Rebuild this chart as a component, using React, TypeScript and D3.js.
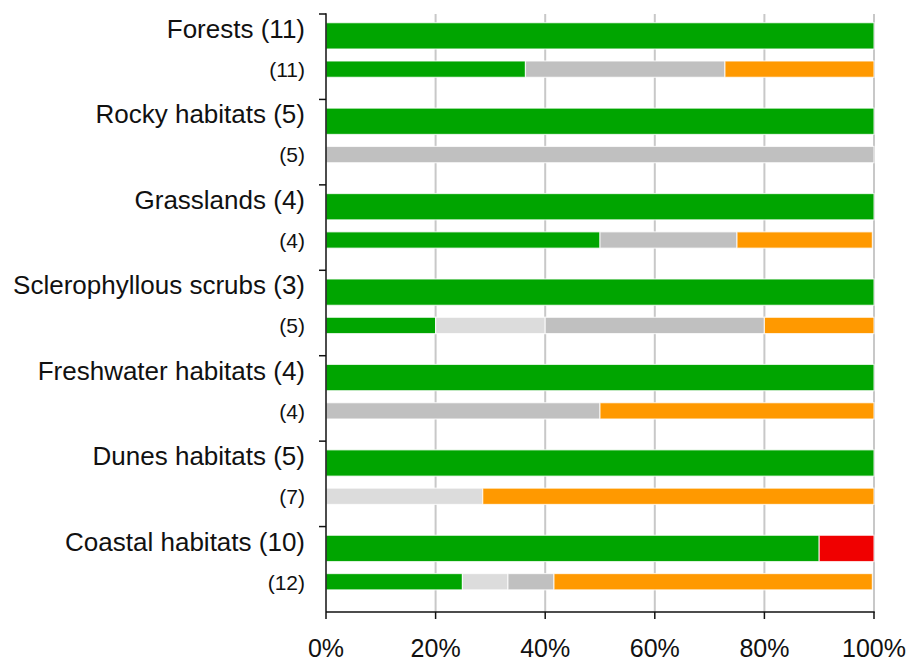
import React from "react";
import * as d3 from "d3";

const habitats = [
  "Forests (11)",
  "Rocky habitats (5)",
  "Grasslands (4)",
  "Sclerophyllous scrubs (3)",
  "Freshwater habitats (4)",
  "Dunes habitats (5)",
  "Coastal habitats (10)",
];
const subLabels = ["(11)", "(5)", "(4)", "(5)", "(4)", "(7)", "(12)"];

const seriesNames = ["Favourable", "Unknown (light)", "Unknown", "Unfavourable-inadequate", "Unfavourable-bad"];
const seriesColors = ["#00A500", "#DCDCDC", "#C0C0C0", "#FF9900", "#F00000"];

// main bar values per habitat (percent, by series)
const mainGood = [100, 100, 100, 100, 100, 100, 90];
const mainLight = [0, 0, 0, 0, 0, 0, 0];
const mainGray = [0, 0, 0, 0, 0, 0, 0];
const mainOrange = [0, 0, 0, 0, 0, 0, 0];
const mainRed = [0, 0, 0, 0, 0, 0, 10];

// sub bar values per habitat
const subGood = [36.4, 0, 50, 20, 0, 0, 24.9];
const subLight = [0, 0, 0, 20, 0, 28.6, 8.3];
const subGray = [36.4, 100, 25, 40, 50, 0, 8.4];
const subOrange = [27.2, 0, 24.7, 20, 50, 71.4, 58.1];
const subRed = [0, 0, 0, 0, 0, 0, 0];

const xTicks = [0, 20, 40, 60, 80, 100];

const W = 910;
const H = 661;
const left = 326;
const right = 874;
const top = 14;
const bottom = 612;

export default function App() {
  const x = d3.scaleLinear().domain([0, 100]).range([left, right]);
  const y = d3.scaleBand<string>().domain(habitats).range([top, bottom]).padding(0);
  const bw = y.bandwidth();
  const inner = d3.scaleLinear().domain([0, 1]).range([0, bw]);

  const mainSeries = [mainGood, mainLight, mainGray, mainOrange, mainRed];
  const subSeries = [subGood, subLight, subGray, subOrange, subRed];

  const stackRow = (series: number[][], i: number) => {
    let acc = 0;
    return series.map((s, k) => {
      const v = s[i];
      const seg = { k, x0: acc, x1: acc + v };
      acc += v;
      return seg;
    }).filter((d) => d.x1 > d.x0);
  };

  const font = "'Liberation Sans', Arial, sans-serif";

  return (
    <svg width={W} height={H} style={{ position: "absolute", left: 0, top: 0, background: "#fff" }}>
      {/* gridlines */}
      {xTicks.slice(1).map((t) => (
        <line key={"g" + t} x1={x(t)} x2={x(t)} y1={top} y2={bottom} stroke="#c8c8c8" strokeWidth={2} />
      ))}
      {habitats.map((h, i) => {
        const y0 = y(h)!;
        const mTop = y0 + inner(8.7 / 85.43);
        const mH = inner(26.3 / 85.43);
        const sTop = y0 + inner(47 / 85.43);
        const sH = inner(16.3 / 85.43);
        return (
          <g key={h}>
            {stackRow(mainSeries, i).map((d) => (
              <rect key={"m" + d.k} x={x(d.x0)} y={mTop} width={x(d.x1) - x(d.x0)} height={mH}
                fill={seriesColors[d.k]} stroke="#ffffff" strokeOpacity={0.75} strokeWidth={1.2} />
            ))}
            {stackRow(subSeries, i).map((d) => (
              <rect key={"s" + d.k} x={x(d.x0)} y={sTop} width={x(d.x1) - x(d.x0)} height={sH}
                fill={seriesColors[d.k]} stroke="#ffffff" strokeOpacity={0.75} strokeWidth={1.2} />
            ))}
            <text x={305} y={y0 + 24} textAnchor="end" fontFamily={font} fontSize={26} fill="#111">{h}</text>
            <text x={305} y={y0 + 63} textAnchor="end" fontFamily={font} fontSize={21} fill="#111">{subLabels[i]}</text>
            <line x1={319} x2={left} y1={y0} y2={y0} stroke="#111" strokeWidth={1.5} />
          </g>
        );
      })}
      {/* y axis */}
      <line x1={left} x2={left} y1={top - 0.75} y2={bottom} stroke="#111" strokeWidth={1.5} />
      {/* x axis */}
      <line x1={left} x2={right + 0.75} y1={bottom} y2={bottom} stroke="#111" strokeWidth={1.5} />
      {xTicks.map((t) => (
        <g key={"t" + t}>
          <line x1={x(t)} x2={x(t)} y1={bottom} y2={bottom + 7} stroke="#111" strokeWidth={1.5} />
          <text x={x(t)} y={657} textAnchor="middle" fontFamily={font} fontSize={25} fill="#111">{t}%</text>
        </g>
      ))}
    </svg>
  );
}
